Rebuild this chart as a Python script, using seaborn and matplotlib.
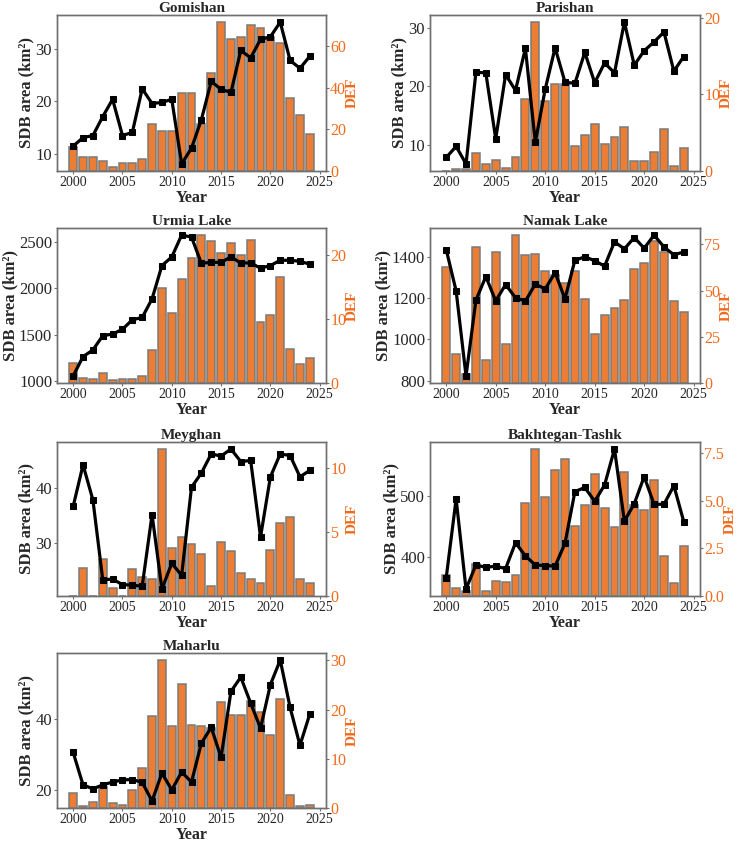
import matplotlib
matplotlib.use("Agg")
import matplotlib.pyplot as plt
import seaborn as sns
import pandas as pd

sns.set_style("white")
plt.rcParams["font.family"] = ["Liberation Serif", "DejaVu Serif"]

years = list(range(2000, 2025))

gomishan_sdb = [11.5, 13.1, 13.5, 17.1, 20.4, 13.5, 14.1, 22.4, 19.6, 19.8, 20.4, 8.1, 11.1,
                16.5, 23.8, 22.3, 21.7, 29.7, 28.3, 31.8, 32.3, 35.1, 27.8, 26.3, 28.6]
gomishan_def = [11.5, 6.8, 6.5, 5.0, 1.8, 4.0, 4.0, 6.0, 22.6, 19.4, 19.4, 37.4, 37.6,
                22.6, 47.3, 71.5, 63.5, 64.4, 70.3, 68.7, 64.4, 61.6, 35.0, 26.8, 17.9]

parishan_sdb = [7.8, 9.7, 6.7, 22.4, 22.3, 11.0, 22.0, 19.3, 26.5, 10.4, 19.5, 26.6, 20.7,
                20.5, 25.8, 20.6, 24.0, 22.3, 31.0, 23.6, 26.1, 27.6, 29.3, 22.6, 25.1]
parishan_def = [0.0, 0.2, 0.2, 2.3, 0.9, 1.5, 0.4, 1.8, 9.4, 19.4, 9.1, 11.4, 11.4,
                3.2, 4.7, 6.2, 3.5, 4.5, 5.7, 1.3, 1.3, 2.5, 5.5, 0.6, 3.0]

urmia_sdb = [1050, 1260, 1332, 1487, 1505, 1556, 1660, 1685, 1887, 2248, 2342, 2580, 2558,
             2273, 2284, 2284, 2342, 2277, 2277, 2220, 2248, 2306, 2306, 2295, 2263]
urmia_def = [3.2, 0.8, 0.6, 1.5, 0.5, 0.6, 0.7, 1.1, 5.1, 14.9, 11.0, 16.3, 19.5,
             23.1, 22.2, 20.3, 21.9, 20.0, 22.3, 9.5, 10.6, 16.6, 5.3, 3.0, 3.9]

namak_sdb = [1435, 1235, 823, 1190, 1305, 1187, 1266, 1202, 1186, 1268, 1245, 1324, 1197,
             1384, 1400, 1382, 1355, 1473, 1439, 1494, 1442, 1506, 1448, 1410, 1424]
namak_def = [62.8, 15.5, 5.0, 73.4, 12.6, 70.7, 20.9, 79.9, 69.4, 69.6, 60.8, 58.5, 54.3,
             60.8, 45.3, 26.4, 36.7, 40.5, 44.8, 61.5, 64.7, 76.8, 70.7, 44.2, 38.5]

meyghan_sdb = [36.6, 44.2, 37.8, 23.2, 23.3, 22.3, 22.2, 22.0, 35.1, 21.5, 26.2, 24.0, 40.1,
               42.7, 46.2, 45.8, 47.1, 44.8, 45.0, 31.0, 42.0, 46.2, 45.9, 42.0, 43.2]
meyghan_def = [0.0, 2.2, 0.0, 2.9, 0.6, 0.0, 2.1, 1.5, 1.3, 11.5, 3.8, 4.6, 4.1,
               3.3, 0.8, 4.2, 3.5, 1.8, 1.3, 1.0, 3.6, 5.7, 6.2, 1.3, 1.0]

bakhtegan_sdb = [365, 496, 346, 386, 382, 384, 380, 423, 401, 386, 385, 384, 422,
                 508, 515, 492, 519, 579, 459, 488, 533, 487, 487, 518, 458]
bakhtegan_def = [1.1, 0.43, 0.26, 1.7, 0.28, 0.8, 0.71, 1.1, 4.9, 7.7, 5.2, 6.6, 7.2,
                 3.7, 4.8, 6.4, 4.6, 3.6, 6.5, 4.8, 4.5, 6.1, 2.1, 0.7, 2.65]

maharlu_sdb = [30.5, 21.4, 20.3, 21.4, 22.2, 22.8, 22.9, 22.1, 16.9, 24.7, 20.0, 25.0, 22.2,
               33.1, 37.5, 29.1, 47.6, 51.6, 44.3, 37.3, 49.5, 56.4, 43.1, 32.5, 41.3]
maharlu_def = [3.0, 0.5, 1.3, 4.2, 1.0, 0.7, 3.6, 8.1, 18.7, 30.0, 16.6, 25.3, 16.8,
               16.6, 16.2, 21.6, 19.0, 19.0, 21.7, 19.6, 14.9, 22.1, 2.6, 0.4, 0.6]

titles = ["Gomishan", "Parishan", "Urmia Lake", "Namak Lake", "Meyghan",
          "Bakhtegan-Tashk", "Maharlu"]
sdb_series = [gomishan_sdb, parishan_sdb, urmia_sdb, namak_sdb, meyghan_sdb,
              bakhtegan_sdb, maharlu_sdb]
def_series = [gomishan_def, parishan_def, urmia_def, namak_def, meyghan_def,
              bakhtegan_def, maharlu_def]

W, H = 740, 841
fig = plt.figure(figsize=(W / 100, H / 100), dpi=100)

cols = [(57, 326), (430, 700)]
rows = [(15, 171), (228, 383), (442, 596), (653, 808)]

BAR = "#EB7D34"
ORANGE_TXT = "#F26A1B"
SPINE = "#707070"

for i, (title, sdb, dfv) in enumerate(zip(titles, sdb_series, def_series)):
    r, c = divmod(i, 2)
    x0, x1 = cols[c]
    y0, y1 = rows[r]
    ax = fig.add_axes([x0 / W, 1 - y1 / H, (x1 - x0) / W, (y1 - y0) / H])
    ax2 = ax.twinx()
    df = pd.DataFrame({"Year": years, "SDB": sdb, "DEF": dfv})
    sns.barplot(data=df, x="Year", y="DEF", native_scale=True, color=BAR,
                saturation=1, edgecolor="#7a7a7a", linewidth=1.1, width=0.8,
                ax=ax2, zorder=1)
    sns.lineplot(data=df, x="Year", y="SDB", ax=ax, color="black", marker="s",
                 markersize=4.8, markeredgecolor="black", linewidth=2.3)
    ax.set_zorder(ax2.get_zorder() + 1)
    ax.patch.set_visible(False)
    ax2.set_xlim(1998.36, 2025.64)
    ax.set_xlim(1998.36, 2025.64)
    ax.set_xticks([2000, 2005, 2010, 2015, 2020, 2025])
    ax.set_title(title, fontsize=11, fontweight="bold", pad=2)
    ax.set_xlabel("Year", fontsize=11.5, fontweight="bold", labelpad=0.5)
    ax.set_ylabel("SDB area (km²)", fontsize=12, fontweight="bold", labelpad=0.5)
    ax2.set_ylabel("DEF", fontsize=11, fontweight="bold", color=ORANGE_TXT, labelpad=0)
    ax.tick_params(axis="y", labelsize=12, length=2.5, color=SPINE, pad=1, left=True)
    ax.tick_params(axis="x", labelsize=10, length=2.5, color=SPINE, pad=1, bottom=True)
    ax2.tick_params(axis="y", labelsize=11.5, length=2.5, color=SPINE, pad=0.5,
                    labelcolor=ORANGE_TXT, right=True)
    for a in (ax, ax2):
        for s in a.spines.values():
            s.set_color(SPINE)
            s.set_linewidth(1.0)

fig.savefig("out.png", dpi=100)
